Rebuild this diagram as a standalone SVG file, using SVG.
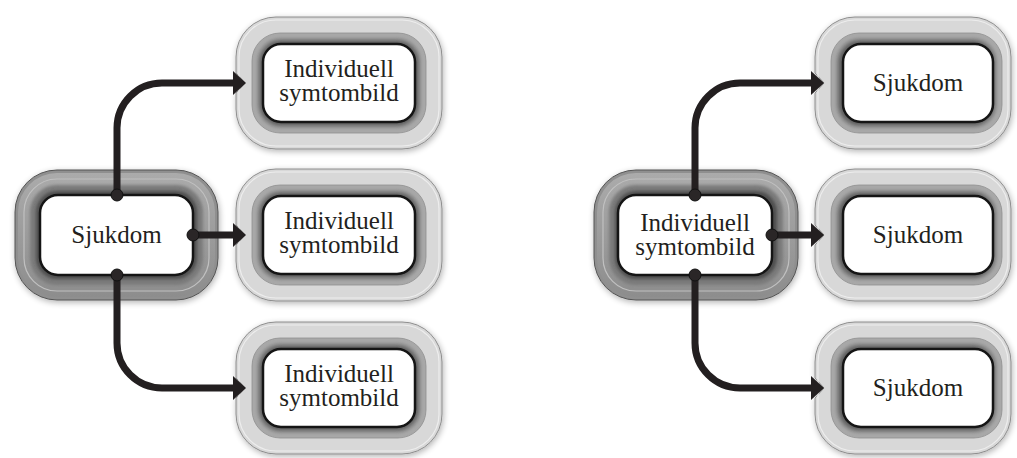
<svg xmlns="http://www.w3.org/2000/svg" width="1017" height="458" viewBox="0 0 1017 458">
<defs>
<style>
.txt{font-family:"Liberation Serif","Times New Roman",serif;font-size:25px;fill:#231f20;text-anchor:middle}
.d-out{fill:#8f8f8f;stroke:#555;stroke-width:1}
.d-grad{fill:url(#gDark)}
.d-hi{fill:none;stroke:#c0c0c0;stroke-width:1.2}
.d-band{fill:#7a7a7a}
.d-band2{fill:#505050}
.l-out{fill:#d8d8d8;stroke:#858585;stroke-width:0.9}
.l-hi{fill:none;stroke:#ededed;stroke-width:1.2}
.l-gray{fill:#a8a8a8;stroke:#8f8f8f;stroke-width:0.8}
.l-band{fill:#8a8a8a}
.l-band2{fill:#5e5e5e}
.box{fill:#fff;stroke:#151515;stroke-width:2.5}
.conn{fill:none;stroke:#231f20;stroke-width:7}
.joint{fill:#2a2627;stroke:#111;stroke-width:1}
</style>
<linearGradient id="gDark" x1="0" y1="0" x2="0" y2="1">
<stop offset="0" stop-color="#ababab"/>
<stop offset="1" stop-color="#8d8d8d"/>
</linearGradient>
<filter id="sh" x="-20%" y="-20%" width="140%" height="140%">
<feGaussianBlur in="SourceAlpha" stdDeviation="3"/>
<feOffset dx="1" dy="2" result="b"/>
<feComponentTransfer><feFuncA type="linear" slope="0.3"/></feComponentTransfer>
<feMerge><feMergeNode/><feMergeNode in="SourceGraphic"/></feMerge>
</filter>
<filter id="soft" x="-10%" y="-10%" width="120%" height="120%">
<feGaussianBlur stdDeviation="1.8"/>
</filter>
<marker id="ah" markerUnits="userSpaceOnUse" markerWidth="14" markerHeight="24" refX="0" refY="12" orient="auto">
<path d="M0,0 L13,12 L0,24 Z" fill="#231f20"/>
</marker>
</defs>
<rect width="1017" height="458" fill="#fff"/>

<g id="node-left-center">
<rect class="d-out" x="15" y="170" width="203" height="130" rx="42" filter="url(#sh)"/>
<rect class="d-grad" x="18" y="173" width="197" height="124" rx="39"/>
<rect class="d-hi" x="24" y="179" width="185" height="112" rx="33"/>
<rect class="d-band" x="30" y="185" width="173" height="100" rx="27" filter="url(#soft)"/>
<rect class="d-band2" x="36" y="191" width="161" height="88" rx="21" filter="url(#soft)"/>
<rect class="box" x="40" y="195" width="153" height="80" rx="18"/>
<text class="txt" x="116.5" y="243">Sjukdom</text>
</g>

<g id="node-left-top">
<path class="l-out" filter="url(#sh)" d="M276,17 H402 A40,40 0 0 1 442,57 V109 A40,40 0 0 1 402,149 H276 A40,40 0 0 1 236,109 V93 L245,83 L236,73 V57 A40,40 0 0 1 276,17 Z"/>
<rect class="l-hi" x="239" y="20" width="200" height="126" rx="37"/>
<rect class="l-gray" x="252" y="33" width="174" height="100" rx="28"/>
<rect class="l-band" x="257" y="38" width="164" height="90" rx="24" filter="url(#soft)"/>
<rect class="l-band2" x="260" y="41" width="158" height="84" rx="21" filter="url(#soft)"/>
<rect class="box" x="263" y="44" width="152" height="78" rx="18"/>
<text class="txt" x="339" y="77">Individuell</text>
<text class="txt" x="339" y="101">symtombild</text>
</g>
<g id="node-left-mid">
<path class="l-out" filter="url(#sh)" d="M276,169 H402 A40,40 0 0 1 442,209 V261 A40,40 0 0 1 402,301 H276 A40,40 0 0 1 236,261 V245 L245,235 L236,225 V209 A40,40 0 0 1 276,169 Z"/>
<rect class="l-hi" x="239" y="172" width="200" height="126" rx="37"/>
<rect class="l-gray" x="252" y="185" width="174" height="100" rx="28"/>
<rect class="l-band" x="257" y="190" width="164" height="90" rx="24" filter="url(#soft)"/>
<rect class="l-band2" x="260" y="193" width="158" height="84" rx="21" filter="url(#soft)"/>
<rect class="box" x="263" y="196" width="152" height="78" rx="18"/>
<text class="txt" x="339" y="229">Individuell</text>
<text class="txt" x="339" y="253">symtombild</text>
</g>
<g id="node-left-bottom">
<path class="l-out" filter="url(#sh)" d="M276,322 H402 A40,40 0 0 1 442,362 V414 A40,40 0 0 1 402,454 H276 A40,40 0 0 1 236,414 V398 L245,388 L236,378 V362 A40,40 0 0 1 276,322 Z"/>
<rect class="l-hi" x="239" y="325" width="200" height="126" rx="37"/>
<rect class="l-gray" x="252" y="338" width="174" height="100" rx="28"/>
<rect class="l-band" x="257" y="343" width="164" height="90" rx="24" filter="url(#soft)"/>
<rect class="l-band2" x="260" y="346" width="158" height="84" rx="21" filter="url(#soft)"/>
<rect class="box" x="263" y="349" width="152" height="78" rx="18"/>
<text class="txt" x="339" y="382">Individuell</text>
<text class="txt" x="339" y="406">symtombild</text>
</g>

<g id="node-right-center">
<rect class="d-out" x="594" y="170" width="204" height="130" rx="42" filter="url(#sh)"/>
<rect class="d-grad" x="597" y="173" width="198" height="124" rx="39"/>
<rect class="d-hi" x="603" y="179" width="186" height="112" rx="33"/>
<rect class="d-band" x="609" y="185" width="174" height="100" rx="27" filter="url(#soft)"/>
<rect class="d-band2" x="615" y="191" width="162" height="88" rx="21" filter="url(#soft)"/>
<rect class="box" x="618" y="195" width="154" height="80" rx="18"/>
<text class="txt" x="695" y="231">Individuell</text>
<text class="txt" x="695" y="255">symtombild</text>
</g>

<g id="node-right-top">
<path class="l-out" filter="url(#sh)" d="M855,17 H971 A40,40 0 0 1 1011,57 V109 A40,40 0 0 1 971,149 H855 A40,40 0 0 1 815,109 V93 L824,83 L815,73 V57 A40,40 0 0 1 855,17 Z"/>
<rect class="l-hi" x="818" y="20" width="190" height="126" rx="37"/>
<rect class="l-gray" x="831" y="33" width="171" height="100" rx="28"/>
<rect class="l-band" x="836" y="38" width="161" height="90" rx="24" filter="url(#soft)"/>
<rect class="l-band2" x="839" y="41" width="155" height="84" rx="21" filter="url(#soft)"/>
<rect class="box" x="843" y="44" width="150" height="78" rx="18"/>
<text class="txt" x="918" y="91">Sjukdom</text>
</g>
<g id="node-right-mid">
<path class="l-out" filter="url(#sh)" d="M855,169 H971 A40,40 0 0 1 1011,209 V261 A40,40 0 0 1 971,301 H855 A40,40 0 0 1 815,261 V245 L824,235 L815,225 V209 A40,40 0 0 1 855,169 Z"/>
<rect class="l-hi" x="818" y="172" width="190" height="126" rx="37"/>
<rect class="l-gray" x="831" y="185" width="171" height="100" rx="28"/>
<rect class="l-band" x="836" y="190" width="161" height="90" rx="24" filter="url(#soft)"/>
<rect class="l-band2" x="839" y="193" width="155" height="84" rx="21" filter="url(#soft)"/>
<rect class="box" x="843" y="196" width="150" height="78" rx="18"/>
<text class="txt" x="918" y="243">Sjukdom</text>
</g>
<g id="node-right-bottom">
<path class="l-out" filter="url(#sh)" d="M855,322 H971 A40,40 0 0 1 1011,362 V414 A40,40 0 0 1 971,454 H855 A40,40 0 0 1 815,414 V398 L824,388 L815,378 V362 A40,40 0 0 1 855,322 Z"/>
<rect class="l-hi" x="818" y="325" width="190" height="126" rx="37"/>
<rect class="l-gray" x="831" y="338" width="171" height="100" rx="28"/>
<rect class="l-band" x="836" y="343" width="161" height="90" rx="24" filter="url(#soft)"/>
<rect class="l-band2" x="839" y="346" width="155" height="84" rx="21" filter="url(#soft)"/>
<rect class="box" x="843" y="349" width="150" height="78" rx="18"/>
<text class="txt" x="918" y="396">Sjukdom</text>
</g>

<g id="connectors">
<path class="conn" marker-end="url(#ah)" d="M117,195 V128 A45,45 0 0 1 162,83 H233"/>
<path class="conn" marker-end="url(#ah)" d="M193,235 H233"/>
<path class="conn" marker-end="url(#ah)" d="M117,275 V343 A45,45 0 0 0 162,388 H233"/>
<circle class="joint" cx="117" cy="195" r="6"/>
<circle class="joint" cx="193" cy="235" r="6"/>
<circle class="joint" cx="117" cy="275" r="6"/>
<path class="conn" marker-end="url(#ah)" d="M695,195 V128 A45,45 0 0 1 740,83 H811"/>
<path class="conn" marker-end="url(#ah)" d="M772,235 H811"/>
<path class="conn" marker-end="url(#ah)" d="M695,275 V343 A45,45 0 0 0 740,388 H811"/>
<circle class="joint" cx="695" cy="195" r="6"/>
<circle class="joint" cx="772" cy="235" r="6"/>
<circle class="joint" cx="695" cy="275" r="6"/>
</g>
</svg>
